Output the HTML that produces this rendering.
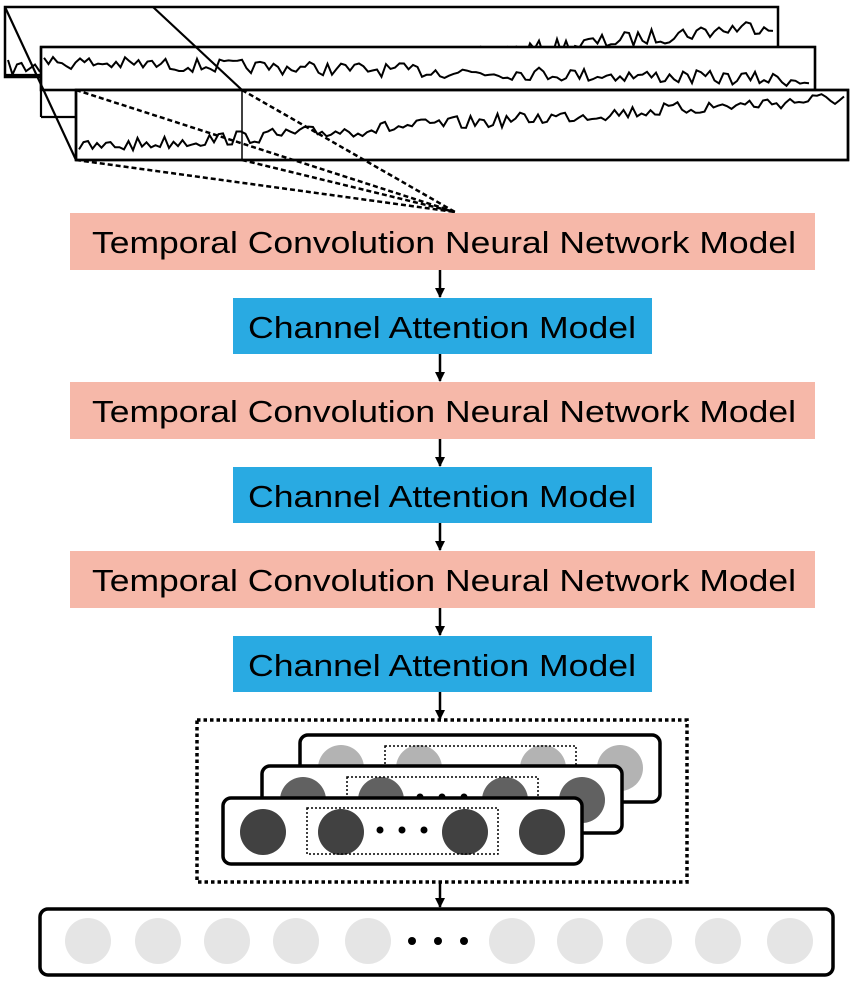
<!DOCTYPE html>
<html><head><meta charset="utf-8"><style>html,body{margin:0;padding:0;background:#fff}svg{display:block}</style></head>
<body>
<svg id="s" width="850" height="983" viewBox="0 0 850 983" xmlns="http://www.w3.org/2000/svg" font-family="'Liberation Sans', Arial, sans-serif">
<defs><marker id="ah" markerWidth="10" markerHeight="10" refX="9" refY="5" orient="auto" markerUnits="userSpaceOnUse"><path d="M0,0 L10,5 L0,10 z" fill="#000"/></marker></defs>
<g id="waves" fill="none" stroke="#000" stroke-width="2"></g>
<g fill="none" stroke="#000">
<rect x="5" y="7" width="773" height="70" fill="none" stroke-width="2.5"/>
<rect x="41" y="47" width="774" height="43" fill="#fff" stroke-width="2.5"/>
<rect x="76" y="90" width="772" height="70" fill="#fff" stroke-width="2.5"/>
</g>
<g id="waves2" fill="none" stroke="#000" stroke-width="2"></g>
<g fill="none" stroke="#000" stroke-width="2.2">
<rect x="41" y="47" width="774" height="43"/>
<rect x="76" y="90" width="772" height="70" stroke-width="2.5"/>
<line x1="5" y1="7" x2="76" y2="160"/>
<line x1="153" y1="7" x2="242" y2="90"/>
<line x1="5" y1="75" x2="41" y2="75"/>
<line x1="41" y1="117" x2="76" y2="117"/>
<line x1="41" y1="47" x2="41" y2="117"/>
<line x1="242" y1="90" x2="242" y2="160" stroke-width="1.5"/>
</g>
<g stroke="#000" stroke-width="2.5" stroke-dasharray="5,3" fill="none">
<line x1="76" y1="90" x2="455" y2="212"/>
<line x1="76" y1="160" x2="455" y2="212"/>
<line x1="242" y1="90" x2="455" y2="212"/>
<line x1="242" y1="160" x2="455" y2="212"/>
</g>
<g font-size="31">
<rect x="70" y="213" width="745" height="57" fill="#f6b8a9"/>
<text x="92" y="253" textLength="704" lengthAdjust="spacingAndGlyphs">Temporal Convolution Neural Network Model</text>
<rect x="233" y="298" width="419" height="56" fill="#29aae2"/>
<text x="248" y="338" textLength="388" lengthAdjust="spacingAndGlyphs">Channel Attention Model</text>
<rect x="70" y="382" width="745" height="57" fill="#f6b8a9"/>
<text x="92" y="422" textLength="704" lengthAdjust="spacingAndGlyphs">Temporal Convolution Neural Network Model</text>
<rect x="233" y="467" width="419" height="56" fill="#29aae2"/>
<text x="248" y="507" textLength="388" lengthAdjust="spacingAndGlyphs">Channel Attention Model</text>
<rect x="70" y="551" width="745" height="57" fill="#f6b8a9"/>
<text x="92" y="591" textLength="704" lengthAdjust="spacingAndGlyphs">Temporal Convolution Neural Network Model</text>
<rect x="233" y="636" width="419" height="56" fill="#29aae2"/>
<text x="248" y="676" textLength="388" lengthAdjust="spacingAndGlyphs">Channel Attention Model</text>
</g>
<g stroke="#000" stroke-width="2.5" marker-end="url(#ah)">
<line x1="440" y1="270" x2="440" y2="297"/>
<line x1="440" y1="354" x2="440" y2="381"/>
<line x1="440" y1="439" x2="440" y2="466"/>
<line x1="440" y1="523" x2="440" y2="550"/>
<line x1="440" y1="608" x2="440" y2="635"/>
<line x1="440" y1="692" x2="440" y2="719"/>
<line x1="440" y1="883" x2="440" y2="907"/>
</g>
<rect x="197" y="720" width="490" height="162" fill="none" stroke="#000" stroke-width="3.5" stroke-dasharray="3.5,3"/>
<rect x="300" y="735" width="360" height="67" rx="8" fill="#fff" stroke="#000" stroke-width="3.5"/>
<g fill="#b3b3b3"><circle cx="341" cy="768" r="23"/><circle cx="419" cy="768" r="23"/><circle cx="543" cy="768" r="23"/><circle cx="620" cy="768" r="23"/></g>
<rect x="385" y="746" width="191" height="46" fill="none" stroke="#000" stroke-width="1.5" stroke-dasharray="2,2"/>
<rect x="262" y="766" width="360" height="67" rx="8" fill="#fff" stroke="#000" stroke-width="3.5"/>
<g fill="#616161"><circle cx="303" cy="800" r="23"/><circle cx="381" cy="800" r="23"/><circle cx="505" cy="800" r="23"/><circle cx="582" cy="800" r="23"/></g>
<rect x="347" y="777" width="191" height="46" fill="none" stroke="#000" stroke-width="1.5" stroke-dasharray="2,2"/>
<g fill="#000"><circle cx="420" cy="797" r="3.5"/><circle cx="442" cy="797" r="3.5"/><circle cx="464" cy="797" r="3.5"/></g>
<rect x="223" y="798" width="359" height="66" rx="8" fill="#fff" stroke="#000" stroke-width="3.5"/>
<g fill="#414141"><circle cx="263" cy="832" r="23"/><circle cx="341" cy="832" r="23"/><circle cx="465" cy="832" r="23"/><circle cx="542" cy="832" r="23"/></g>
<rect x="307" y="808" width="191" height="46" fill="none" stroke="#000" stroke-width="1.5" stroke-dasharray="2,2"/>
<g fill="#000"><circle cx="380" cy="830" r="3.5"/><circle cx="402" cy="830" r="3.5"/><circle cx="424" cy="830" r="3.5"/></g>
<rect x="40" y="909" width="793" height="66" rx="8" fill="#fff" stroke="#000" stroke-width="3.5"/>
<g fill="#e5e5e5">
<circle cx="88" cy="941" r="23"/><circle cx="158" cy="941" r="23"/><circle cx="227" cy="941" r="23"/><circle cx="296" cy="941" r="23"/><circle cx="368" cy="941" r="23"/>
<circle cx="512" cy="941" r="23"/><circle cx="580" cy="941" r="23"/><circle cx="649" cy="941" r="23"/><circle cx="718" cy="941" r="23"/><circle cx="790" cy="941" r="23"/>
</g>
<g fill="#000"><circle cx="412" cy="941" r="4"/><circle cx="438" cy="941" r="4"/><circle cx="464" cy="941" r="4"/></g>
</svg>
<script>
(function(){
var seed=7;function r(){seed=(seed*16807)%2147483647;return seed/2147483647;}
function wave(x0,x1,f,amp,lo,hi){
 var p=[];for(var x=x0;x<=x1;x+=4.5){var t=(x-x0)/(x1-x0);var y=f(t)+(r()-0.5)*2*amp;y=Math.max(lo,Math.min(hi,y));p.push(x.toFixed(1)+','+y.toFixed(1));}
 return p.join(' ');
}
var ns='http://www.w3.org/2000/svg';
function add(g,pts){var e=document.createElementNS(ns,'polyline');e.setAttribute('points',pts);document.getElementById(g).appendChild(e);}
add('waves',wave(8,775,function(t){return t<0.6?68-t*20:56-(t-0.6)*80;},8,10,76));
add('waves2',wave(44,812,function(t){return 62+t*18;},7,50,89));
add('waves2',wave(79,845,function(t){return 148-t*50;},7,93,158));
})();
</script>
</body></html>
